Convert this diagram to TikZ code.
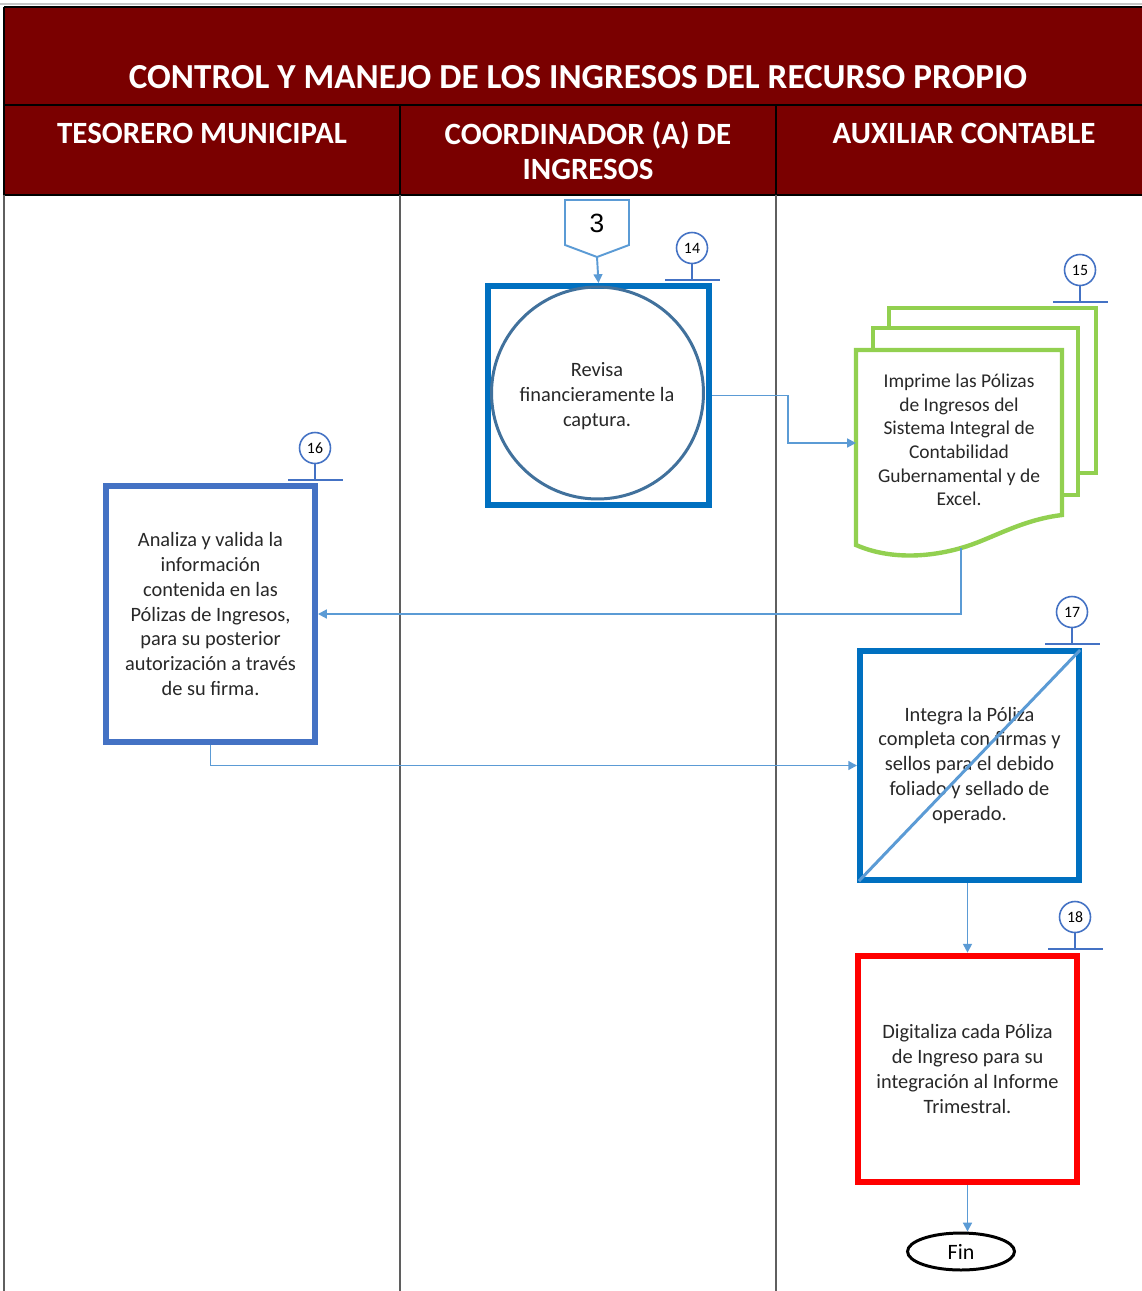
\documentclass[tikz,border=0pt]{standalone}
\usepackage{fontspec}
\setmainfont{Carlito}
\newfontfamily\digitfont{Liberation Sans}
\usetikzlibrary{arrows.meta,shapes.geometric,calc}

\definecolor{hdrred}{RGB}{122,0,0}
\definecolor{boxblue}{RGB}{0,112,192}
\definecolor{ringblue}{RGB}{65,113,156}
\definecolor{tagblue}{RGB}{68,114,196}
\definecolor{linkblue}{RGB}{91,155,213}
\definecolor{docgreen}{RGB}{146,208,80}
\definecolor{txtgray}{RGB}{40,40,40}
\definecolor{lanegray}{RGB}{95,95,95}

\tikzset{
  lane/.style={draw=lanegray, line width=1.2pt},
  hdrline/.style={draw=black, line width=0.8pt},
  plainlink/.style={draw=linkblue, line width=1.1pt},
  link/.style={plainlink, -{Triangle[length=5pt,width=5pt]}},
  stepbox/.style={rectangle, draw, line width=3.4pt, inner sep=0pt, align=center,
    text=txtgray, font=\fontsize{11.6}{14.2}\selectfont},
  tagc/.style={circle, draw=tagblue, line width=0.9pt, minimum size=0.62cm,
    inner sep=0pt, text=black, font=\fontsize{9}{10}\selectfont},
  tagln/.style={draw=tagblue, line width=1.1pt},
  docln/.style={draw=docgreen, line width=2.5pt, fill=white, line join=miter},
  hdrtxt/.style={text=white, font=\bfseries\fontsize{17.6}{19.9}\selectfont, align=center, inner sep=0pt},
}

\begin{document}
\begin{tikzpicture}[x=0.02cm, y=-0.02cm]
\useasboundingbox (0,0) rectangle (1142,1291);
\fill[white] (0,0) rectangle (1142,1291);

% ---- header bands ----
\draw[gray!45, line width=1.5pt] (0,4) -- (1142,4);
\fill[hdrred] (4,7) rectangle (1142,195);
\draw[hdrline] (4,7) -- (1142,7);
\draw[hdrline] (4,105) -- (1142,105);
\draw[hdrline] (4,195) -- (1142,195);
\draw[hdrline] (4,7) -- (4,195);
\draw[hdrline] (400,105) -- (400,195);
\draw[hdrline] (776,105) -- (776,195);

\node[hdrtxt, font=\bfseries\fontsize{20}{24}\selectfont] (title) at (578,77)
  {CONTROL Y MANEJO DE LOS INGRESOS DEL RECURSO PROPIO};
\node[hdrtxt] (laneA) at (202,133) {TESORERO MUNICIPAL};
\node[hdrtxt] (laneB) at (588,151) {COORDINADOR (A) DE\\INGRESOS};
\node[hdrtxt] (laneC) at (964,133) {AUXILIAR CONTABLE};

% ---- swimlane separators ----
\draw[lane] (4,195) -- (4,1291);
\draw[lane] (400,195) -- (400,1291);
\draw[lane] (776,195) -- (776,1291);

% ---- off-page connector 3 ----
\draw[plainlink] (565,200) -- (629,200) -- (629,245) -- (597,257) -- (565,245) -- cycle;
\node[font=\digitfont\fontsize{15}{17}\selectfont, text=black] (p3) at (597,223) {3};
\coordinate (p3tip) at (597,257);

% ---- step 14 ----
\node[stepbox, draw=boxblue, minimum width=4.42cm, minimum height=4.38cm] (b14) at (598.5,395.5) {};
\node[circle, draw=ringblue, line width=1.7pt, minimum size=4.24cm, inner sep=0pt] (c14) at (597.5,393) {};
\node[align=center, text=txtgray, font=\fontsize{11.6}{14.2}\selectfont] (t14txt) at (597,396)
  {Revisa\\financieramente la\\captura.};
\draw[link] (p3tip) -- (b14.north);

% ---- step 15: stacked documents ----
\draw[docln] (889,308) rectangle (1096,473);
\draw[docln] (873,328) rectangle (1078,495);
\draw[docln] (856,350) -- (1062,350) -- (1062,515)
  .. controls (1020,520) and (990,540) .. (961,548)
  .. controls (930,557) and (890,560) .. (856,545) -- cycle;
\node[align=center, text=txtgray, font=\fontsize{11.1}{13.4}\selectfont] (doc) at (959,440)
  {Imprime las Pólizas\\de Ingresos del\\Sistema Integral de\\Contabilidad\\Gubernamental y de\\Excel.};
\coordinate (docin) at (856,443);
\coordinate (docout) at (961,548);
\draw[link] (b14.east) -- ++(76,0) |- (docin);

% ---- step 16 ----
\node[stepbox, draw=tagblue, minimum width=4.18cm, minimum height=5.12cm] (b16) at (210.5,614)
  {Analiza y valida la\\información\\contenida en las\\Pólizas de Ingresos,\\para su posterior\\autorización a través\\de su firma.};
\draw[link] (docout) |- (b16.east);

% ---- step 17 ----
\node[stepbox, draw=boxblue, minimum width=4.38cm, minimum height=4.58cm] (b17) at (969.5,765.5)
  {Integra la Póliza\\completa con firmas y\\sellos para el debido\\foliado y sellado de\\operado.};
\draw[draw=linkblue, line width=1.7pt, shorten <=1.5pt, shorten >=1.5pt] (b17.south west) -- (b17.north east);
\draw[link] (b16.south) |- (b17.west);

% ---- step 18 ----
\node[stepbox, draw=red, line width=3.8pt, minimum width=4.38cm, minimum height=4.52cm] (b18) at (967.5,1069)
  {Digitaliza cada Póliza\\de Ingreso para su\\integración al Informe\\Trimestral.};
\draw[link] (b18.north |- b17.south) -- (b18.north);

% ---- end ----
\node[ellipse, draw=black, line width=1.7pt, minimum width=2.14cm, minimum height=0.74cm,
  inner sep=0pt, text=black, font=\fontsize{12.5}{14}\selectfont] (fin) at (961,1251.5) {Fin};
\draw[link] (b18.south) -- (b18.south |- fin.north);

% ---- step number tags ----
\foreach \nm/\cx/\cy/\num in {t14/692/248/14, t15/1080/270/15, t16/315/448/16, t17/1072/612/17, t18/1075/917/18}{
  \node[tagc] (\nm) at (\cx,\cy) {\num};
  \draw[tagln] (\nm.south) -- (\cx,\cy+32);
  \draw[tagln] (\cx-27,\cy+32) -- (\cx+28,\cy+32);
}
\end{tikzpicture}
\end{document}
